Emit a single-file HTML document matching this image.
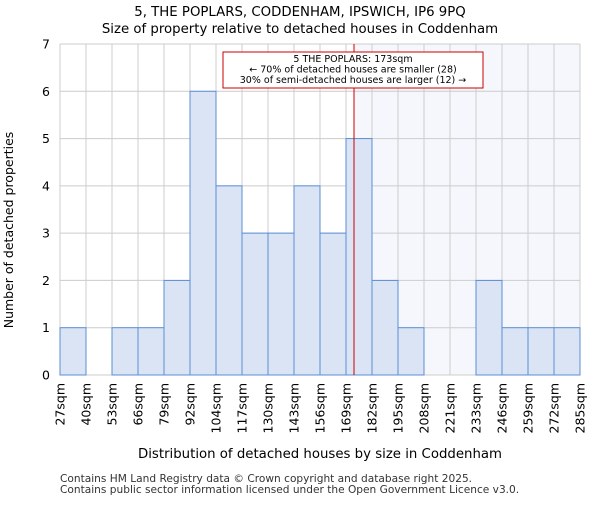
<!DOCTYPE html>
<html><head><meta charset="utf-8"><style>
body{margin:0;background:#fff;font-family:"Liberation Sans","DejaVu Sans",sans-serif}
svg text{font-family:"DejaVu Sans","Liberation Sans",sans-serif}
</style></head><body>
<svg id="c" width="600" height="500"></svg>
<script>
const categories=["27sqm","40sqm","53sqm","66sqm","79sqm","92sqm","104sqm","117sqm","130sqm","143sqm","156sqm","169sqm","182sqm","195sqm","208sqm","221sqm","233sqm","246sqm","259sqm","272sqm","285sqm"];
const binStarts=[27,40,53,66,79,92,104,117,130,143,156,169,182,195,208,221,233,246,259,272,285];
const counts=[1,0,1,1,2,6,4,3,3,4,3,5,2,1,0,0,2,1,1,1];
const yTicks=[0,1,2,3,4,5,6,7];
const subjectSize=173;
const L=60,R=580,T=44,B=375,NS="http://www.w3.org/2000/svg";
const svg=document.getElementById('c');
const n=counts.length,bw=(R-L)/n;
const xi=i=>L+i*bw;
const ys=v=>B-(v/7)*(B-T);
function xv(v){for(let i=0;i<n;i++){if(v>=binStarts[i]&&v<binStarts[i+1])return xi(i)+(v-binStarts[i])/(binStarts[i+1]-binStarts[i])*bw;}return R;}
function el(t,a,txt){const e=document.createElementNS(NS,t);for(const k in a)e.setAttribute(k,a[k]);if(txt!==undefined)e.textContent=txt;svg.appendChild(e);return e;}
const sx=xv(subjectSize);
let e;
e=el('rect',{x:sx,y:T,width:R-sx,height:B-T,fill:'#f5f7fd'});


yTicks.forEach(t=>{e=el('line',{x1:L,x2:R,y1:ys(t),y2:ys(t),stroke:'#cccccc','stroke-width':1});


e=el('text',{x:L-10,y:ys(t)+4.5,'text-anchor':'end','font-size':12.5,fill:'#000'},t);

});
for(let i=0;i<=n;i++){e=el('line',{x1:xi(i),x2:xi(i),y1:T,y2:B,stroke:'#cccccc','stroke-width':1});

}
counts.forEach((c,i)=>{if(c>0){e=el('rect',{x:xi(i),y:ys(c),width:bw,height:B-ys(c),fill:'#dae4f4',stroke:'#5b8fd6','stroke-width':1});

}});
categories.forEach((c,i)=>{const x=xi(i)+4.5,y=B+8;e=el('text',{x:x,y:y,transform:`rotate(-90 ${x} ${y})`,'text-anchor':'end','font-size':12.5,fill:'#000'},c);

});
e=el('line',{x1:sx,x2:sx,y1:T,y2:B,stroke:'#cc0000','stroke-width':1});


e=el('rect',{x:223,y:52,width:260,height:36,fill:'#fff',stroke:'#cc0000','stroke-width':1});


["5 THE POPLARS: 173sqm","← 70% of detached houses are smaller (28)","30% of semi-detached houses are larger (12) →"].forEach((t,k)=>{e=el('text',{x:353,y:62+k*10.5,'text-anchor':'middle','font-size':9.5,fill:'#000'},t);

});
e=el('text',{x:300,y:16,'text-anchor':'middle','font-size':13.3,fill:'#000'},"5, THE POPLARS, CODDENHAM, IPSWICH, IP6 9PQ");


e=el('text',{x:300,y:33,'text-anchor':'middle','font-size':13.3,fill:'#000'},"Size of property relative to detached houses in Coddenham");


e=el('text',{x:13,y:230,transform:'rotate(-90 13 230)','text-anchor':'middle','font-size':12.5,fill:'#000'},"Number of detached properties");


e=el('text',{x:320,y:458,'text-anchor':'middle','font-size':13.3,fill:'#000'},"Distribution of detached houses by size in Coddenham");


e=el('text',{x:60,y:482,'font-size':10.6,fill:'#333'},"Contains HM Land Registry data © Crown copyright and database right 2025.");


e=el('text',{x:60,y:493,'font-size':10.6,fill:'#333'},"Contains public sector information licensed under the Open Government Licence v3.0.");


</script>
</body></html>
